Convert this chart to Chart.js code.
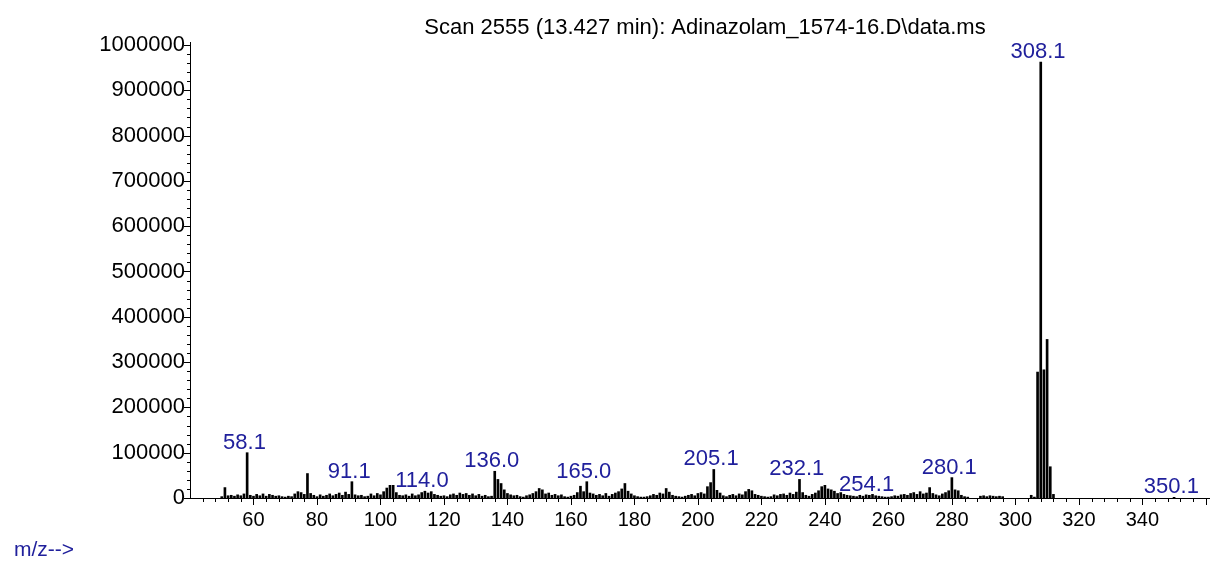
<!DOCTYPE html>
<html>
<head>
<meta charset="utf-8">
<script src="https://cdn.jsdelivr.net/npm/chart.js@4.4.0/dist/chart.umd.min.js"></script>
<style>
  body { margin: 0; background: #fff; }
  #canvasDiv { width: 1214px; height: 564px; }
</style>
</head>
<body>
<div id="canvasDiv"><canvas id="myChart"></canvas></div>
<script>
let title = 'Scan 2555 (13.427 min): Adinazolam_1574-16.D\\data.ms';
let axisText = 'm/z-->';

// m/z and abundance
let mz = [
  50, 51, 52, 53, 54, 55, 56, 57, 58, 59, 60, 61, 62, 63, 64, 65, 66, 67, 68, 69,
  70, 71, 72, 73, 74, 75, 76, 77, 78, 79, 80, 81, 82, 83, 84, 85, 86, 87, 88, 89,
  90, 91, 92, 93, 94, 95, 96, 97, 98, 99, 100, 101, 102, 103, 104, 105, 106, 107, 108, 109,
  110, 111, 112, 113, 114, 115, 116, 117, 118, 119, 120, 121, 122, 123, 124, 125, 126, 127, 128, 129,
  130, 131, 132, 133, 134, 135, 136, 137, 138, 139, 140, 141, 142, 143, 144, 145, 146, 147, 148, 149,
  150, 151, 152, 153, 154, 155, 156, 157, 158, 159, 160, 161, 162, 163, 164, 165, 166, 167, 168, 169,
  170, 171, 172, 173, 174, 175, 176, 177, 178, 179, 180, 181, 182, 183, 184, 185, 186, 187, 188, 189,
  190, 191, 192, 193, 194, 195, 196, 197, 198, 199, 200, 201, 202, 203, 204, 205, 206, 207, 208, 209,
  210, 211, 212, 213, 214, 215, 216, 217, 218, 219, 220, 221, 222, 223, 224, 225, 226, 227, 228, 229,
  230, 231, 232, 233, 234, 235, 236, 237, 238, 239, 240, 241, 242, 243, 244, 245, 246, 247, 248, 249,
  250, 251, 252, 253, 254, 255, 256, 257, 258, 259, 260, 261, 262, 263, 264, 265, 266, 267, 268, 269,
  270, 271, 272, 273, 274, 275, 276, 277, 278, 279, 280, 281, 282, 283, 284, 285,
  289, 290, 291, 292, 293, 294, 295, 296,
  305, 306, 307, 308, 309, 310, 311, 312, 350
];
let abundance = [
  3000, 23000, 5000, 6000, 4000, 7000, 5000, 9000, 100000, 6000, 4000, 8000, 5000, 9000, 4000, 8000, 6000, 4000, 5000, 3000,
  2000, 4000, 3000, 9000, 14000, 12000, 8000, 54000, 10000, 6000, 3000, 7000, 4000, 6000, 9000, 5000, 8000, 11000, 6000, 13000,
  8000, 36000, 7000, 5000, 6000, 3000, 4000, 9000, 5000, 10000, 7000, 14000, 22000, 28000, 28000, 12000, 6000, 5000, 7000, 4000,
  9000, 5000, 7000, 12000, 15000, 11000, 14000, 8000, 6000, 4000, 5000, 3000, 7000, 9000, 6000, 11000, 8000, 10000, 6000, 9000,
  5000, 8000, 4000, 6000, 3000, 4000, 59000, 41000, 32000, 18000, 10000, 7000, 5000, 6000, 3000, 2000, 5000, 7000, 10000, 14000,
  21000, 18000, 9000, 11000, 6000, 8000, 5000, 7000, 3000, 2000, 4000, 6000, 12000, 26000, 14000, 36000, 11000, 9000, 6000, 8000,
  5000, 10000, 4000, 8000, 11000, 14000, 20000, 32000, 15000, 9000, 5000, 3000, 2000, 2000, 3000, 5000, 8000, 6000, 11000, 9000,
  21000, 13000, 6000, 4000, 3000, 2000, 4000, 6000, 8000, 5000, 10000, 12000, 9000, 25000, 34000, 63000, 17000, 11000, 5000, 3000,
  6000, 8000, 5000, 9000, 7000, 14000, 19000, 16000, 8000, 6000, 4000, 3000, 2000, 3000, 7000, 5000, 8000, 9000, 6000, 11000,
  8000, 13000, 41000, 12000, 6000, 4000, 8000, 11000, 16000, 25000, 28000, 20000, 18000, 15000, 10000, 12000, 8000, 6000, 5000, 4000,
  3000, 6000, 4000, 7000, 6000, 8000, 5000, 4000, 3000, 2000, 2000, 3000, 5000, 4000, 7000, 8000, 6000, 10000, 12000, 8000,
  14000, 9000, 11000, 23000, 10000, 7000, 5000, 9000, 12000, 16000, 45000, 18000, 16000, 6000, 3000, 2000,
  4000, 5000, 3000, 5000, 4000, 3000, 4000, 3000,
  6000, 2000, 278000, 962000, 283000, 350000, 69000, 8000, 1500
];
let peakLabels = ['58.1', '91.1', '114.0', '136.0', '165.0', '205.1', '232.1', '254.1', '280.1', '308.1', '350.1'];
let xTickLabels = [60, 80, 100, 120, 140, 160, 180, 200, 220, 240, 260, 280, 300, 320, 340];
let yTickLabels = [0, 100000, 200000, 300000, 400000, 500000, 600000, 700000, 800000, 900000, 1000000];

let font = '"Liberation Sans", Arial, sans-serif';
let blue = '#20209c';
let ctx = document.getElementById('myChart').getContext('2d');

// minor/major tick marks like the instrument printout
let tickMarks = {
  id: 'tickMarks',
  afterDraw(chart) {
    let x = chart.scales.x, y = chart.scales.y;
    let c = chart.ctx;
    c.save();
    c.strokeStyle = '#000';
    c.lineWidth = 1;
    c.beginPath();
    for (let v = 44; v <= 360; v += 4) {
      let px = Math.round(x.getPixelForValue(v)) + 0.5;
      let len = v % 20 === 0 ? 7 : 4;
      c.moveTo(px, y.bottom);
      c.lineTo(px, y.bottom + len);
    }
    for (let v = 0; v <= 1000000; v += 20000) {
      let py = Math.round(y.getPixelForValue(v)) + 0.5;
      let len = v % 100000 === 0 ? 6 : 3;
      c.moveTo(x.left, py);
      c.lineTo(x.left - len, py);
    }
    c.stroke();
    c.restore();
  }
};

let textLayer = {
  id: 'textLayer',
  afterDraw(chart) {
    let x = chart.scales.x, y = chart.scales.y;
    let c = chart.ctx;
    c.save();
    c.fillStyle = '#000';
    c.font = '22px ' + font;
    c.textAlign = 'center';
    c.textBaseline = 'alphabetic';
    c.fillText(title, 705, 34);

    c.fillStyle = blue;
    c.font = '22px ' + font;
    peakLabels.forEach(function (lbl) {
      let m = parseFloat(lbl);
      let i = mz.indexOf(Math.round(m));
      let val = i >= 0 ? abundance[i] : 0;
      c.fillText(lbl, x.getPixelForValue(m) - 3, y.getPixelForValue(val) - 4);
    });

    c.font = '21px ' + font;
    c.textAlign = 'left';
    c.fillText(axisText, 14, 556);
    c.restore();
  }
};

new Chart(ctx, {
  type: 'bar',
  data: {
    datasets: [{
      data: mz.map(function (m, i) { return { x: m, y: abundance[i] }; }),
      backgroundColor: '#000',
      borderWidth: 0,
      barThickness: 2
    }]
  },
  options: {
    responsive: true,
    maintainAspectRatio: false,
    animation: false,
    layout: { padding: { left: 0, right: 5, top: 42, bottom: 0 } },
    plugins: { legend: { display: false }, tooltip: { enabled: false }, title: { display: false } },
    scales: {
      x: {
        type: 'linear',
        offset: false,
        min: 40,
        max: 361,
        afterBuildTicks: function (scale) { scale.ticks = xTickLabels.map(function (v) { return { value: v }; }); },
        afterFit: function (scale) { scale.height = 66; },
        grid: { display: false, drawTicks: false },
        border: { display: true, color: '#000', width: 1 },
        ticks: { color: '#000', font: { family: font, size: 20 }, padding: 10, maxRotation: 0, autoSkip: false }
      },
      y: {
        min: 0,
        max: 1006600,
        afterBuildTicks: function (scale) { scale.ticks = yTickLabels.map(function (v) { return { value: v }; }); },
        afterFit: function (scale) { scale.width = 190; },
        grid: { display: false, drawTicks: false },
        border: { display: true, color: '#000', width: 1 },
        ticks: { color: '#000', font: { family: font, size: 22 }, padding: 5, callback: function (v) { return String(v); } }
      }
    }
  },
  plugins: [tickMarks, textLayer]
});
</script>
</body>
</html>
